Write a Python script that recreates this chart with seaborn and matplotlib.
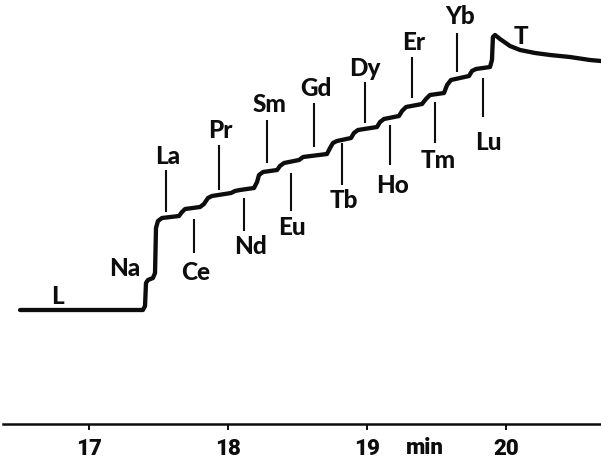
import matplotlib
matplotlib.use("Agg")
import matplotlib.pyplot as plt
import seaborn as sns
import pandas as pd
from matplotlib.transforms import blended_transform_factory

# ---------------- data ----------------
# Isotachopherogram trace: time (min) vs. detector signal (arbitrary units)
trace_time = [16.504, 17.388, 17.403, 17.410, 17.424, 17.460, 17.475, 17.482, 17.496, 17.525,
              17.647, 17.669, 17.691, 17.799, 17.827, 17.856, 17.885, 18.022, 18.050, 18.086,
              18.187, 18.209, 18.223, 18.252, 18.353, 18.374, 18.403, 18.511, 18.540, 18.712,
              18.734, 18.755, 18.784, 18.885, 18.906, 18.935, 19.072, 19.094, 19.122, 19.230,
              19.252, 19.281, 19.396, 19.424, 19.453, 19.554, 19.576, 19.604, 19.734, 19.755,
              19.784, 19.885, 19.899, 19.906, 19.921, 19.957, 20.029, 20.101, 20.209, 20.317,
              20.460, 20.604, 20.683]
trace_signal = [11.4, 11.4, 11.8, 14.1, 14.4, 14.6, 15.1, 19.6, 20.3, 20.6,
                20.8, 21.2, 21.5, 21.7, 22.0, 22.6, 22.8, 23.1, 23.3, 23.4,
                23.6, 24.2, 24.9, 25.2, 25.4, 25.8, 26.1, 26.4, 26.7, 27.0,
                27.6, 28.1, 28.3, 28.6, 29.1, 29.4, 29.7, 30.2, 30.5, 30.8,
                31.3, 31.7, 32.0, 32.5, 32.9, 33.1, 33.9, 34.4, 34.8, 35.3,
                35.5, 35.7, 36.4, 38.7, 38.9, 38.5, 37.8, 37.4, 37.1, 36.9,
                36.7, 36.4, 36.3]

# Zone markers (element, time of marker, marker line from/to signal)
elements = ["La", "Ce", "Pr", "Nd", "Sm", "Eu", "Gd", "Tb", "Dy", "Ho", "Er", "Tm", "Yb", "Lu"]
marker_time = [17.554, 17.755, 17.935, 18.115, 18.281, 18.453, 18.619, 18.820, 18.986,
               19.165, 19.324, 19.489, 19.647, 19.835]
marker_lo = [21.2, 17.1, 23.4, 19.3, 26.1, 21.3, 27.7, 23.9, 30.1, 25.9, 32.6, 28.1, 35.2, 30.7]
marker_hi = [25.4, 20.5, 27.9, 22.6, 30.4, 25.1, 32.1, 28.1, 34.2, 29.9, 36.7, 32.2, 39.1, 34.6]

# Other zone names (leader, sodium, terminator)
extra_labels = ["L", "Na", "T"]

tick_values = [17, 18, 19, 20]
tick_labels = ["17", "18", "19", "20"]
unit_label = "min"

# ---------------- layout (label anchor positions) ----------------
element_label_pos = [(17.568, 26.7), (17.770, 15.2), (17.942, 29.4), (18.165, 17.8),
                     (18.302, 31.9), (18.460, 19.7), (18.633, 33.6), (18.835, 22.3),
                     (18.986, 35.6), (19.187, 23.9), (19.338, 38.1), (19.511, 26.4),
                     (19.669, 40.7), (19.871, 28.2)]
extra_label_pos = [(16.770, 12.8), (17.259, 15.6), (20.108, 38.8)]
unit_label_x = 19.417

# ---------------- figure ----------------
sns.set_style("white")
plt.rcParams["font.family"] = ["Lato", "DejaVu Sans"]

fig = plt.figure(figsize=(6.01, 4.65), dpi=100)
ax = fig.add_axes([0, 41 / 465, 1, 424 / 465])

df = pd.DataFrame({"time": trace_time, "signal": trace_signal})
sns.lineplot(data=df, x="time", y="signal", sort=False, estimator=None,
             color="#0d0d0d", lw=3.1, ax=ax)

ax.vlines(marker_time, marker_lo, marker_hi, color="#0d0d0d", lw=1.5)

label_font = dict(fontsize=17.5, fontweight="black", color="#0d0d0d",
                  ha="center", va="center", family=["Lato", "DejaVu Sans"])
for name, (tx, ty) in zip(elements, element_label_pos):
    ax.text(tx, ty, name, **label_font)
for name, (tx, ty) in zip(extra_labels, extra_label_pos):
    ax.text(tx, ty, name, **label_font)

ax.set_xlim(16.3597, 20.6835)
ax.set_ylim(0, 42.4)
ax.set_xlabel("")
ax.set_ylabel("")
ax.set_yticks([])
ax.set_xticks(tick_values)
ax.set_xticklabels(tick_labels, fontsize=16, fontweight="black",
                   family=["Roboto", "DejaVu Sans"])
ax.tick_params(axis="x", direction="out", length=4.5, width=1.4, pad=5.5,
               colors="#0d0d0d", bottom=True)
for s in ["left", "top", "right"]:
    ax.spines[s].set_visible(False)
ax.spines["bottom"].set_color("#0d0d0d")
ax.spines["bottom"].set_linewidth(1.8)
ax.spines["bottom"].set_bounds(16.38, 20.6835)

fig.canvas.draw()
base_y = ax.get_xticklabels()[0].get_window_extent().y0
ax_y0 = ax.get_window_extent().y0
trans = blended_transform_factory(ax.transData, ax.transAxes)
ax.text(unit_label_x, -0.005 + (base_y - ax_y0) / ax.get_window_extent().height + 0.008,
        unit_label, transform=trans, fontsize=16,
        fontweight="black", ha="center", va="bottom", color="#0d0d0d",
        family=["Roboto", "DejaVu Sans"])

fig.savefig("out.png", dpi=100, facecolor="white")
